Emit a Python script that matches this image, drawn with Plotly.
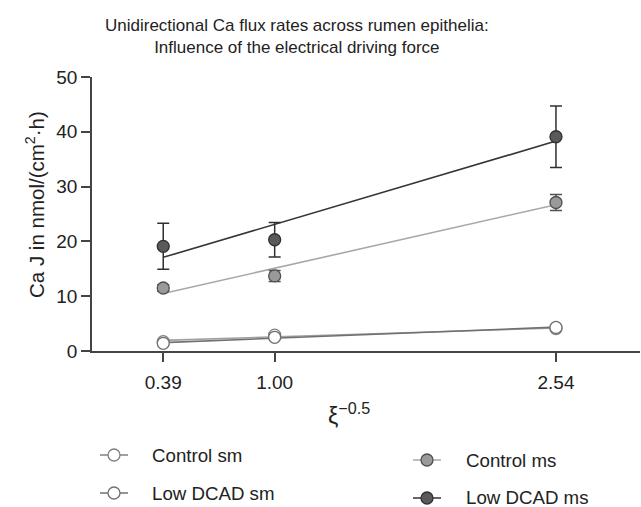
import numpy as np
import plotly.graph_objects as go

# ---- data ----
x_vals = [0.39, 1.00, 2.54]
x_ticklabels = ["0.39", "1.00", "2.54"]
y_ticks = [0, 10, 20, 30, 40, 50]

series_names = ["Control sm", "Low DCAD sm", "Control ms", "Low DCAD ms"]
control_sm = [1.7, 2.9, 4.1]
control_sm_err = [0.3, 0.4, 0.4]
low_dcad_sm = [1.4, 2.5, 4.3]
low_dcad_sm_err = [0.3, 0.3, 0.4]
control_ms = [11.5, 13.7, 27.1]
control_ms_err = [0.6, 1.0, 1.45]
low_dcad_ms = [19.1, 20.3, 39.1]
low_dcad_ms_err = [4.2, 3.15, 5.6]

# ---- styles ----
styles = {
    "Control sm": dict(fill="#ffffff", edge="#808080", line="#a0a0a0"),
    "Low DCAD sm": dict(fill="#ffffff", edge="#707070", line="#707070"),
    "Control ms": dict(fill="#9a9a9a", edge="#505050", line="#a8a8a8"),
    "Low DCAD ms": dict(fill="#5a5a5a", edge="#303030", line="#353535"),
}
data = {
    "Control sm": (control_sm, control_sm_err),
    "Low DCAD sm": (low_dcad_sm, low_dcad_sm_err),
    "Control ms": (control_ms, control_ms_err),
    "Low DCAD ms": (low_dcad_ms, low_dcad_ms_err),
}

FONT = "Liberation Sans, Arial, sans-serif"
TXT = "#222222"
AX = "#444444"

fig = go.Figure()

# regression lines first
for name in series_names:
    y, _ = data[name]
    k, d = np.polyfit(x_vals, y, 1)
    xs = [x_vals[0], x_vals[-1]]
    fig.add_trace(go.Scatter(
        x=xs, y=[k * v + d for v in xs], mode="lines",
        line=dict(color=styles[name]["line"], width=1.6),
        showlegend=False, hoverinfo="skip"))

# points with error bars
for name in series_names:
    y, e = data[name]
    st = styles[name]
    fig.add_trace(go.Scatter(
        x=x_vals, y=y, mode="markers", name=name,
        marker=dict(size=12, color=st["fill"], line=dict(color=st["edge"], width=1.3)),
        error_y=dict(type="data", array=e, visible=True, color=st["edge"],
                     thickness=1.5, width=6),
        showlegend=False))

# plot area geometry (pixels)
W, H = 641, 507
L, R, T, B = 92, 1, 77, 156
pw, ph = W - L - R, H - T - B


def px2paper(px, py):
    return (px - L) / pw, (H - B - py) / ph


shapes = []
annotations = []

# title
tx, ty = px2paper(297, 37)
annotations.append(dict(
    text="Unidirectional Ca flux rates across rumen epithelia:<br>Influence of the electrical driving force",
    x=tx, y=ty, xref="paper", yref="paper", xanchor="center", yanchor="middle",
    showarrow=False, font=dict(family=FONT, size=17, color=TXT)))

# y-axis title
ax_, ay_ = px2paper(35, 205)
annotations.append(dict(
    text="Ca J in nmol/(cm<sup>2</sup>·h)", textangle=-90,
    x=ax_, y=ay_, xref="paper", yref="paper", xanchor="center", yanchor="middle",
    showarrow=False, font=dict(family=FONT, size=20.5, color=TXT)))

# x-axis title
bx, by = px2paper(349, 414)
annotations.append(dict(
    text="ξ<sup>−0.5</sup>",
    x=bx, y=by, xref="paper", yref="paper", xanchor="center", yanchor="middle",
    showarrow=False, font=dict(family=FONT, size=23, color=TXT)))

# manual legend
legend_pos = {
    "Control sm": (114, 455, 150),
    "Low DCAD sm": (114, 493, 150),
    "Control ms": (427, 460, 464),
    "Low DCAD ms": (427, 498, 464),
}
for name in series_names:
    cx, cy, tx_ = legend_pos[name]
    st = styles[name]
    x0, y0 = px2paper(cx - 14, cy)
    x1, _ = px2paper(cx + 14, cy)
    shapes.append(dict(type="line", xref="paper", yref="paper", x0=x0, x1=x1, y0=y0, y1=y0,
                       line=dict(color=st["line"] if "ms" in name else st["edge"], width=1.5)))
    mx, my = px2paper(cx, cy)
    shapes.append(dict(type="circle", xref="paper", yref="paper",
                       xsizemode="pixel", ysizemode="pixel", xanchor=mx, yanchor=my,
                       x0=-6, x1=6, y0=-6, y1=6,
                       fillcolor=st["fill"], line=dict(color=st["edge"], width=1.3)))
    lx, ly = px2paper(tx_, cy)
    annotations.append(dict(text=name, x=lx, y=ly, xref="paper", yref="paper",
                            xanchor="left", yanchor="middle", showarrow=False,
                            font=dict(family=FONT, size=18.7, color=TXT)))

fig.update_layout(
    width=W, height=H,
    margin=dict(l=L, r=R, t=T, b=B, pad=0),
    paper_bgcolor="white", plot_bgcolor="white",
    font=dict(family=FONT, size=18, color=TXT),
    showlegend=False,
    shapes=shapes, annotations=annotations,
    xaxis=dict(range=[0, 3.0], tickvals=x_vals, ticktext=x_ticklabels,
               showgrid=False, zeroline=False, showline=True, linecolor=AX, linewidth=1.5,
               ticks="outside", ticklen=9, tickwidth=1.5, tickcolor=AX,
               ticklabelstandoff=4,
               tickfont=dict(family=FONT, size=19, color=TXT)),
    yaxis=dict(range=[0, 50], tickvals=y_ticks,
               showgrid=False, zeroline=False, showline=True, linecolor=AX, linewidth=1.5,
               ticks="outside", ticklen=9, tickwidth=1.5, tickcolor=AX,
               tickfont=dict(family=FONT, size=19, color=TXT)),
)

fig.write_html("out.html")
